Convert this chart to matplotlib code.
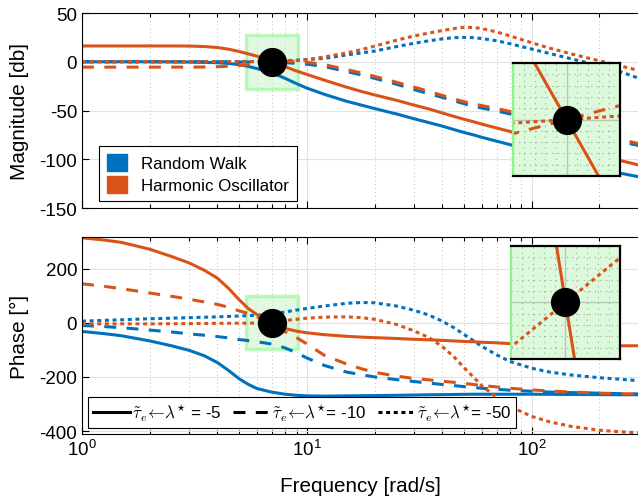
import matplotlib.pyplot as plt
import matplotlib.ticker as mticker
from matplotlib.patches import Patch, Rectangle
from matplotlib.lines import Line2D

plt.rcParams['font.family'] = ['Liberation Sans', 'DejaVu Sans']
plt.rcParams['mathtext.fontset'] = 'cm'
plt.rcParams['axes.unicode_minus'] = False

# frequencies [rad/s], shared by all curves
freq = [1, 1.25, 1.5, 2, 2.5, 3, 3.5, 4, 4.5, 5, 5.5, 6, 6.8, 7, 7.2, 8, 9, 10,
        12, 15, 17.5, 20, 25, 30, 35, 40, 45, 50, 55, 60, 70, 80, 100, 120,
        150, 200, 250, 300]

# magnitude [db]
mag_rw_5 = [0, 0, 0, 0, -0.1, -0.3, -0.6, -1, -1.8, -3, -4.8, -7, -10.5, -11.5,
            -12.5, -17, -22.5, -27, -33.5, -40.5, -44.5, -48, -53.5, -58.5, -62.5,
            -66, -69.5, -72.5, -75, -77.5, -81.5, -85, -91, -96, -102, -109.5,
            -114.5, -118]
mag_rw_10 = [0, 0, 0, 0, 0, 0, 0, 0, 0, -0.2, -0.3, -0.4, -0.6, -0.65, -0.7, -1,
             -1.6, -2.5, -5, -10, -13.5, -17, -23, -28.5, -33, -36.5, -40, -43,
             -45.5, -47.5, -50.5, -53.5, -58.5, -63, -69, -77, -82, -86]
mag_rw_50 = [0, 0, 0, 0, 0, 0, 0, 0, 0, 0.1, 0.2, 0.3, 0.55, 0.6, 0.65, 1, 1.6,
             2.3, 3.5, 7, 9, 11, 15.5, 19, 21.5, 23.5, 24.7, 25, 24.7, 23.8,
             21.5, 18.5, 13, 8.5, 3, -4, -10.5, -17]
mag_ho_5 = [16.2, 16.2, 16.2, 16.2, 16.2, 16.1, 15.6, 14.6, 12.8, 10.5, 8, 5.7,
            1.07, 0, -1.04, -5, -9.5, -13, -19, -26, -30.5, -34, -39.5, -44.5,
            -48.5, -52.5, -56, -59, -61.5, -64, -68, -71.5, -77, -82, -88, -96,
            -101.5, -106]
mag_ho_10 = [-5.5, -5.5, -5.5, -5.5, -5.5, -5.5, -5.4, -5.1, -4.6, -3.9, -3, -1.9,
             -0.16, 0, 0.155, 0.5, 0.4, -0.5, -3, -8, -11.5, -15, -21, -26, -30.5,
             -34.5, -38, -41, -43, -45, -48, -51, -56.5, -61, -67, -75, -80, -84]
mag_ho_50 = [0, 0, 0, 0, 0, 0, 0, 0, 0, 0, 0, -0.02, -0.04, 0, 0.04, 0.5, 1.2, 2,
             5, 9, 12.5, 16, 22, 26.5, 29.5, 32, 34, 35.3, 35.2, 34, 30.5, 26.5,
             19.5, 14, 8, 1, -4.5, -9]

# phase [deg]
ph_rw_5 = [-32, -40, -48, -67, -85, -102, -122, -147, -177, -207, -228, -243,
           -254, -256.5, -258, -264, -268, -270, -271, -270, -269.5, -269, -268,
           -267, -266, -265.5, -265, -264.5, -264, -264, -264, -264, -264,
           -264.5, -265, -265.5, -266, -266]
ph_rw_10 = [-10, -14, -18, -27, -34, -41, -46, -51, -56, -62, -66, -70, -77, -79,
            -81, -93, -111, -130, -158, -182, -192, -200, -210, -217, -223, -228,
            -232, -236, -239, -242, -246, -249, -253, -256, -258, -260, -262, -263]
ph_rw_50 = [6, 9, 11, 15, 17, 19, 20.5, 22, 23.5, 25, 26.5, 28, 31, 33, 34, 40,
            47, 53, 62, 72, 75, 74, 62, 46, 28, 6, -18, -43, -66, -87, -119, -143,
            -168, -182, -193, -203, -209, -214]
ph_ho_5 = [314, 306, 297, 272, 245, 221, 194, 165, 126, 85, 52, 30, 5.3, 0, -5.1,
           -21, -31, -37, -44, -50, -53, -55, -58, -61, -63, -65, -67, -69, -70,
           -72, -74, -77, -80, -82, -83, -84, -85, -85]
ph_ho_10 = [144, 135, 126, 110, 98, 87, 77, 68, 57, 44, 34, 22, -2.4, -8, -13.5,
            -33, -55, -78, -121, -152, -170, -183, -197, -206, -211, -216, -220,
            -224, -228, -232, -237, -242, -248, -252, -256, -260, -262, -263]
ph_ho_50 = [-4, -4, -4, -4, -3.5, -3, -2.5, -2, -1.8, -1.5, -1.2, -1, -0.69, 0,
            0.67, 8, 13, 17, 21, 22, 19, 13, -6, -30, -55, -88, -125, -166, -200,
            -233, -276, -309, -346, -366, -383, -397, -403, -407]

lambdas = ['-5', '-10', '-50']
systems = ['Random Walk', 'Harmonic Oscillator']

design_freq = 7
design_val = 0

BLUE = '#0072BD'
ORANGE = '#D95319'
styles = ['-', (0, (3.9, 3.4)), (0, (1.3, 1.2))]
LW = 2.2

fig = plt.figure(figsize=(6.38, 5.02), dpi=100)
ax1 = fig.add_axes([82/638, 1 - 209/502, 557/638, 195/502])
ax2 = fig.add_axes([82/638, 1 - 435/502, 557/638, 197/502])


def draw(ax, rw, ho):
    for vals, ls in zip(rw, styles):
        ax.plot(freq, vals, color=BLUE, lw=LW, linestyle=ls)
    for vals, ls in zip(ho, styles):
        ax.plot(freq, vals, color=ORANGE, lw=LW, linestyle=ls)
    ax.plot(design_freq, design_val, 'o', color='k', ms=20, zorder=10)


def style_main(ax, ylim, yticks, box_h):
    ax.set_xscale('log')
    ax.set_xlim(1, 300)
    ax.set_ylim(*ylim)
    ax.set_yticks(yticks)
    ax.xaxis.set_minor_locator(mticker.LogLocator(subs=range(2, 10)))
    ax.xaxis.set_minor_formatter(mticker.NullFormatter())
    ax.tick_params(which='both', direction='in', top=True, right=False,
                   labelsize=13.5, width=0.8)
    ax.tick_params(which='major', length=5)
    ax.tick_params(which='minor', length=3)
    ax.grid(which='major', color='#e2e2e2', lw=0.8)
    ax.grid(which='minor', axis='x', color='#bdbdbd', lw=0.7, ls=(0, (1, 3)))
    ax.set_axisbelow(True)
    ax.spines['right'].set_visible(False)
    # zoom source box around the design point
    x0 = design_freq / 10**0.116
    x1 = design_freq * 10**0.116
    ax.add_patch(Rectangle((x0, design_val - box_h), x1 - x0, 2 * box_h,
                           facecolor='#c8f5c8', alpha=0.55, edgecolor='#8cf58c',
                           lw=2.5, zorder=1.5))


def add_inset(ax, bounds, rw, ho, h, d=0.00625):
    ins = ax.inset_axes(bounds)
    draw(ins, rw, ho)
    ins.set_xscale('log')
    ins.set_xlim(design_freq / 10**d, design_freq * 10**d)
    ins.set_ylim(design_val - h, design_val + h)
    ins.set_facecolor('#dcf9dc')
    ins.xaxis.set_major_locator(mticker.FixedLocator([design_freq]))
    ins.xaxis.set_minor_locator(mticker.FixedLocator(
        [design_freq * 10**(d * k / 5) for k in range(-4, 5) if k]))
    ins.yaxis.set_major_locator(mticker.FixedLocator([design_val]))
    ins.yaxis.set_minor_locator(mticker.FixedLocator(
        [design_val + h * k / 5 for k in range(-4, 5) if k]))
    ins.grid(which='major', color='#b4c8b4', lw=1.0)
    ins.grid(which='minor', color='#9aa89a', lw=0.8, ls=(0, (1, 4)))
    ins.set_axisbelow(True)
    ins.tick_params(which='both', length=0, labelbottom=False, labelleft=False)
    for s in ['top', 'bottom', 'right']:
        ins.spines[s].set_linewidth(1.6)
    ins.spines['left'].set_color('#8cf58c')
    ins.spines['left'].set_linewidth(1.6)
    return ins


draw(ax1, [mag_rw_5, mag_rw_10, mag_rw_50], [mag_ho_5, mag_ho_10, mag_ho_50])
style_main(ax1, (-150, 50), [-150, -100, -50, 0, 50], 27.5)
ax1.tick_params(labelbottom=False)
ax1.set_ylabel('Magnitude [db]', fontsize=14.85)
ax1.yaxis.set_label_coords(-0.096, 0.5)
add_inset(ax1, [0.774, 0.164, 0.192, 0.579],
          [mag_rw_5, mag_rw_10, mag_rw_50], [mag_ho_5, mag_ho_10, mag_ho_50], 0.318)

draw(ax2, [ph_rw_5, ph_rw_10, ph_rw_50], [ph_ho_5, ph_ho_10, ph_ho_50])
style_main(ax2, (-411, 317), [-400, -200, 0, 200], 98)
ax2.set_ylabel('Phase [°]', fontsize=14.85)
ax2.yaxis.set_label_coords(-0.096, 0.5)
ax2.set_xlabel('Frequency [rad/s]', fontsize=14.85)
ax2.xaxis.set_label_coords(0.499, -0.215)
add_inset(ax2, [0.770, 0.381, 0.196, 0.574],
          [ph_rw_5, ph_rw_10, ph_rw_50], [ph_ho_5, ph_ho_10, ph_ho_50], 0.433)

# legends
sys_handles = [Patch(facecolor=BLUE, edgecolor=BLUE),
               Patch(facecolor=ORANGE, edgecolor=ORANGE)]
leg1 = ax1.legend(sys_handles, systems, loc='upper left',
                  bbox_to_anchor=(0.0305, 0.318), borderaxespad=0,
                  fontsize=12.15, handlelength=1.2, handleheight=1.2,
                  handletextpad=0.85, labelspacing=0.3, fancybox=False,
                  framealpha=1, edgecolor='k', borderpad=0.45)
leg1.get_frame().set_linewidth(0.8)
leg1.set_zorder(20)

lam_handles = [Line2D([], [], color='k', lw=LW, linestyle=ls) for ls in styles]
tau = r'$\tilde{\tau}_e\!\leftarrow\!\lambda^{\star}$'
lam_labels = [tau + ' = ' + lambdas[0],
              tau + '= ' + lambdas[1],
              tau + '= ' + lambdas[2]]
leg2 = ax2.legend(lam_handles, lam_labels, loc='lower left', ncol=3,
                  bbox_to_anchor=(0.011, 0.03), borderaxespad=0,
                  fontsize=12.15, handlelength=2.2, handletextpad=0.1,
                  columnspacing=0.7, fancybox=False, framealpha=1,
                  edgecolor='k', borderpad=0.3)
leg2.get_frame().set_linewidth(0.8)
leg2.set_zorder(20)

fig.savefig('out.png', dpi=100)
